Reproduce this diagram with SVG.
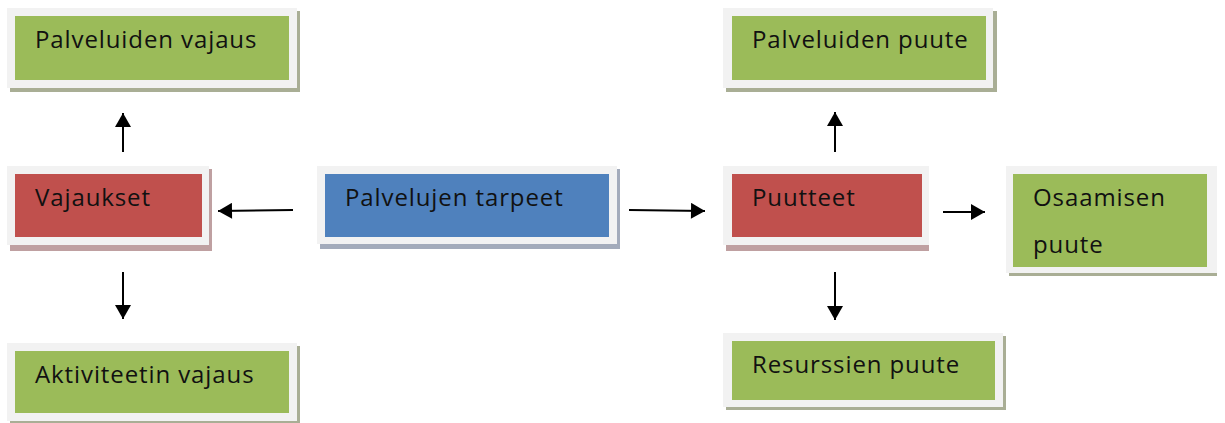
<svg xmlns="http://www.w3.org/2000/svg" width="1225" height="423" viewBox="0 0 1225 423">
<style>
.frame{fill:#f2f2f2}
.g{fill:#9bbb59}
.r{fill:#c0504d}
.b{fill:#4f81bd}
.sg{fill:#a9ae95}
.sr{fill:#bfa0a1}
.sb{fill:#a3abbb}
text{font-family:"Open Sans","Liberation Sans",sans-serif;font-size:24px;letter-spacing:0.9px;fill:#111}
.conn line{stroke:#000;stroke-width:2;marker-end:url(#ah)}
</style>
<defs>
<marker id="ah" markerUnits="userSpaceOnUse" markerWidth="16" markerHeight="16" viewBox="0 0 14 16" refX="14" refY="8" orient="auto">
<path d="M0,0 L14,8 L0,16 Z" fill="#000"/>
</marker>
</defs>
<rect width="1225" height="423" fill="#fff"/>

<g id="palveluiden-vajaus">
<rect class="sg" x="10" y="11" width="290" height="81"/>
<rect class="frame" x="7" y="8" width="290" height="80"/>
<rect class="g" x="15" y="16" width="274" height="64"/>
<text x="35" y="48">Palveluiden vajaus</text>
</g>

<g id="vajaukset">
<rect class="sr" x="10" y="169" width="202" height="82"/>
<rect class="frame" x="7" y="166" width="202" height="79"/>
<rect class="r" x="15" y="174" width="187" height="63"/>
<text x="35" y="206">Vajaukset</text>
</g>

<g id="aktiviteetin-vajaus">
<rect class="sg" x="10" y="346" width="290" height="77"/>
<rect class="frame" x="7" y="343" width="290" height="78"/>
<rect class="g" x="15" y="351" width="274" height="62"/>
<text x="35" y="383">Aktiviteetin vajaus</text>
</g>

<g id="palvelujen-tarpeet">
<rect class="sb" x="320" y="169" width="300" height="80"/>
<rect class="frame" x="317" y="166" width="300" height="78"/>
<rect class="b" x="325" y="174" width="284" height="63"/>
<text x="345" y="206">Palvelujen tarpeet</text>
</g>

<g id="palveluiden-puute">
<rect class="sg" x="726" y="11" width="271" height="81"/>
<rect class="frame" x="723" y="8" width="270" height="80"/>
<rect class="g" x="732" y="16" width="254" height="64"/>
<text x="752" y="48">Palveluiden puute</text>
</g>

<g id="puutteet">
<rect class="sr" x="726" y="169" width="203" height="82"/>
<rect class="frame" x="723" y="166" width="206" height="79"/>
<rect class="r" x="732" y="174" width="190" height="63"/>
<text x="752" y="206">Puutteet</text>
</g>

<g id="osaamisen-puute">
<rect class="sg" x="1009" y="169" width="208" height="107"/>
<rect class="frame" x="1006" y="166" width="211" height="107"/>
<rect class="g" x="1013" y="174" width="194" height="93"/>
<text x="1033" y="206">Osaamisen</text>
<text x="1033" y="253">puute</text>
</g>

<g id="resurssien-puute">
<rect class="sg" x="726" y="336" width="280" height="74"/>
<rect class="frame" x="723" y="333" width="280" height="74"/>
<rect class="g" x="732" y="341" width="263" height="59"/>
<text x="752" y="373">Resurssien puute</text>
</g>

<g id="connectors" class="conn">
<line x1="123" y1="152" x2="123" y2="113"/>
<line x1="123" y1="272" x2="123" y2="319"/>
<line x1="293" y1="210" x2="218" y2="211"/>
<line x1="629" y1="210" x2="705" y2="211"/>
<line x1="835" y1="152" x2="835" y2="112"/>
<line x1="835" y1="272" x2="835" y2="320"/>
<line x1="943" y1="212" x2="985" y2="212"/>
</g>
</svg>
